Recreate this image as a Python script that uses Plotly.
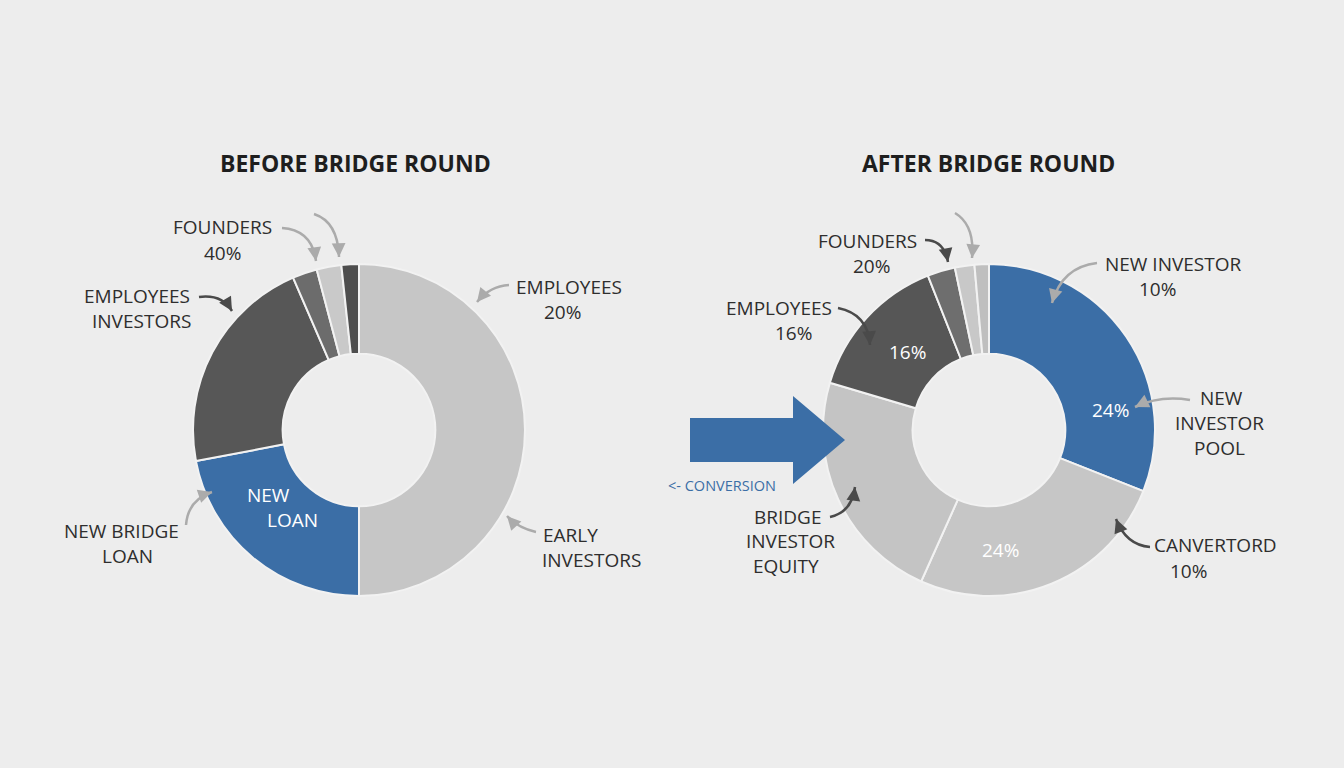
import plotly.graph_objects as go

W, H = 1344, 768

# ---------------- data ----------------
before_labels = ["Early investors", "New bridge loan", "Employees / investors",
                 "Founders", "Other A", "Other B"]
before_values = [50.0, 22.0, 21.5, 2.4, 2.4, 1.7]
before_colors = ["#c6c6c6", "#3b6ea6", "#575757", "#6c6c6c", "#c9c9c9", "#4e4e4e"]

after_labels = ["New investor", "Canvertord", "Bridge investor equity",
                "Employees", "Founders", "Other A", "Other B"]
after_values = [31.0, 25.7, 22.9, 14.4, 2.7, 1.9, 1.4]
after_colors = ["#3b6ea6", "#c6c6c6", "#c4c4c4", "#565656", "#6e6e6e", "#c8c8c8", "#bfbfbf"]

BG = "#ededed"
TXT = "#2e2e2e"
LIGHT_ARROW = "#ababab"
DARK_ARROW = "#4a4a4a"
BLUE = "#3b6ea6"
FONT = "Open Sans, Arial, sans-serif"

fig = go.Figure()

def dom(cx, cy, r):
    return dict(x=[(cx - r) / W, (cx + r) / W], y=[1 - (cy + r) / H, 1 - (cy - r) / H])

fig.add_trace(go.Pie(labels=before_labels, values=before_values, hole=0.46,
                     sort=False, direction="clockwise", rotation=0,
                     marker=dict(colors=before_colors, line=dict(color="#f2f2f2", width=2)),
                     textinfo="none", domain=dom(359, 430, 166), showlegend=False))
fig.add_trace(go.Pie(labels=after_labels, values=after_values, hole=0.46,
                     sort=False, direction="clockwise", rotation=0,
                     marker=dict(colors=after_colors, line=dict(color="#f2f2f2", width=2)),
                     textinfo="none", domain=dom(989, 430, 166), showlegend=False))

annotations = []
shapes = []

def text(x, y, s, size=19, color=TXT, bold=False, xanchor="center"):
    annotations.append(dict(x=x, y=y, xref="x", yref="y", text=("<b>%s</b>" % s) if bold else s,
                            showarrow=False, xanchor=xanchor, yanchor="middle",
                            font=dict(family=FONT, size=size, color=color)))

def curve(x0, y0, cx, cy, x1, y1, color):
    shapes.append(dict(type="path", xref="x", yref="y",
                       path="M %f,%f Q %f,%f %f,%f" % (x0, y0, cx, cy, x1, y1),
                       line=dict(color=color, width=2.5)))
    dx, dy = cx - x1, cy - y1
    n = (dx * dx + dy * dy) ** 0.5 or 1
    annotations.append(dict(x=x1, y=y1, xref="x", yref="y", ax=6 * dx / n, ay=6 * dy / n,
                            axref="pixel", ayref="pixel", text="", showarrow=True,
                            arrowhead=2, arrowsize=1.1, arrowwidth=2.5, arrowcolor=color))

# titles
text(355, 163, "BEFORE BRIDGE ROUND", size=23, color="#1e1e1e", bold=True)
text(988, 163, "AFTER BRIDGE ROUND", size=23, color="#1e1e1e", bold=True)

# left labels
text(222, 227, "FOUNDERS"); text(222, 253, "40%")
text(137, 296, "EMPLOYEES"); text(141, 321, "INVESTORS")
text(569, 287, "EMPLOYEES"); text(562, 312, "20%")
text(121, 531, "NEW BRIDGE"); text(127, 556, "LOAN")
text(541, 535, "EARLY", xanchor="left"); text(540, 560, "INVESTORS", xanchor="left")
text(268, 495, "NEW", color="white"); text(292, 520, "LOAN", color="white")

# right labels
text(867, 241, "FOUNDERS"); text(871, 266, "20%")
text(779, 308, "EMPLOYEES"); text(793, 333, "16%")
text(907, 352, "16%", color="white")
text(1173, 264, "NEW INVESTOR"); text(1157, 289, "10%")
text(1221, 398, "NEW"); text(1219, 423, "INVESTOR"); text(1219, 448, "POOL")
text(1110, 410, "24%", color="white")
text(1215, 545, "CANVERTORD"); text(1188, 571, "10%")
text(1000, 550, "24%", color="white")
text(787, 517, "BRIDGE"); text(790, 541, "INVESTOR"); text(786, 566, "EQUITY")
text(722, 485, "&lt;- CONVERSION", size=14.5, color=BLUE)

# arrows left
curve(282, 228, 312, 230, 316, 261, LIGHT_ARROW)
curve(314, 214, 338, 222, 339, 257, LIGHT_ARROW)
curve(199, 297, 222, 294, 232, 311, DARK_ARROW)
curve(509, 285, 490, 286, 477, 302, LIGHT_ARROW)
curve(186, 525, 188, 500, 212, 492, LIGHT_ARROW)
curve(536, 532, 518, 528, 507, 516, LIGHT_ARROW)

# arrows right
curve(925, 240, 944, 240, 948, 262, DARK_ARROW)
curve(955, 213, 975, 225, 972, 258, LIGHT_ARROW)
curve(838, 308, 868, 314, 870, 345, DARK_ARROW)
curve(1097, 263, 1062, 267, 1052, 303, LIGHT_ARROW)
curve(1190, 400, 1160, 395, 1135, 407, LIGHT_ARROW)
curve(1150, 547, 1126, 545, 1116, 519, DARK_ARROW)
curve(830, 517, 852, 512, 855, 487, DARK_ARROW)

# big conversion arrow
shapes.append(dict(type="path", xref="x", yref="y",
                   path="M 690,418 L 793,418 L 793,396 L 845,440 L 793,484 L 793,462 L 690,462 Z",
                   fillcolor=BLUE, line=dict(width=0), layer="above"))

fig.update_layout(
    width=W, height=H, margin=dict(l=0, r=0, t=0, b=0),
    paper_bgcolor=BG, plot_bgcolor="rgba(0,0,0,0)",
    xaxis=dict(range=[0, W], visible=False, domain=[0, 1], fixedrange=True),
    yaxis=dict(range=[H, 0], visible=False, domain=[0, 1], fixedrange=True),
    annotations=annotations, shapes=shapes, showlegend=False,
)

fig.write_html("out.html", config={"displayModeBar": False},
               post_script="document.body.style.margin='0';document.body.style.overflow='hidden';document.body.style.background='%s';" % BG)
